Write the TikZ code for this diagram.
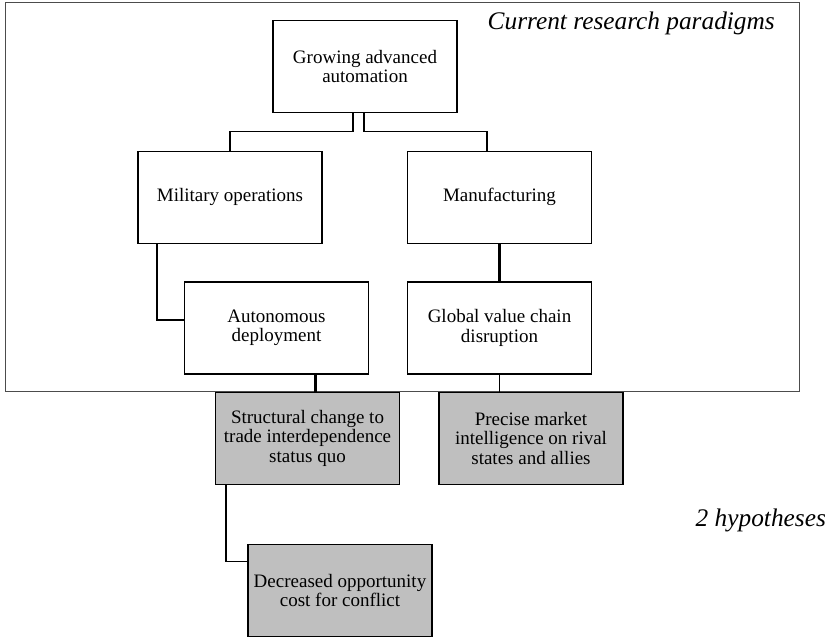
\documentclass[tikz,border=0pt]{standalone}
\usepackage{fontspec}
\setmainfont{Liberation Serif}
\usetikzlibrary{calc}
\usetikzlibrary{positioning}

\newcommand{\boxfont}{\fontsize{14.25}{14.6}\selectfont}
\newcommand{\titlefont}{\fontsize{19}{23}\selectfont\itshape}

\begin{document}
\begin{tikzpicture}[x=0.75pt,y=-0.75pt,
    block/.style={draw, line width=1pt, minimum width=138pt, minimum height=69pt, inner sep=2pt, align=center, font=\boxfont},
    hypo/.style={block, fill=black!25},
    link/.style={line width=0.8pt},
    thicklink/.style={line width=1.6pt}]
    \useasboundingbox (0,0) rectangle (825,637);

    \draw[black!70, line width=0.6pt] (5,2) rectangle (799,391);

    \node[font=\titlefont, anchor=base west] (paradigms) at (483,29) {Current research paradigms};
    \node[font=\titlefont, anchor=base west] (hypotheses) at (691,526) {2 hypotheses};

    \node[block] (auto) at (365,66.5) {Growing advanced\\automation};

    \node[block] (mil) at (230,197.3) {Military operations};

    \node[block] (manu) at (499.5,197.3) {Manufacturing};

    \node[block] (deploy) at (276.5,328) {Autonomous\\deployment};

    \node[block] (gvc) at (499.5,328) {Global value chain\\disruption};

    \node[hypo] (struct) at (307.5,438.3) {Structural change to\\trade interdependence\\status quo};

    \node[hypo] (intel) at (531,438.3) {Precise market\\intelligence on rival\\states and allies};

    \node[hypo] (cost) at (340,590.5) {Decreased opportunity\\cost for conflict};

    %connectors
    \draw[link] ($(auto.south)+(-12,0)$) -- ++(0,18) -| (mil.north);
    \draw[link] ($(auto.south)+(-1,0)$) -- ++(0,18) -| ($(manu.north)+(-12.5,0)$);
    \draw[link] ($(mil.south)+(-73,0)$) |- ($(deploy.west)+(0,-8)$);
    \draw[thicklink] (manu.south) -- (gvc.north);
    \draw[thicklink] ($(deploy.south)+(39,0)$) coordinate (d1) -- (d1 |- struct.north);
    \draw[link] (gvc.south) -- (gvc.south |- intel.north);
    \draw[link] ($(struct.south)+(-81.5,0)$) |- ($(cost.west)+(0,-29)$);

  \end{tikzpicture}
\end{document}
